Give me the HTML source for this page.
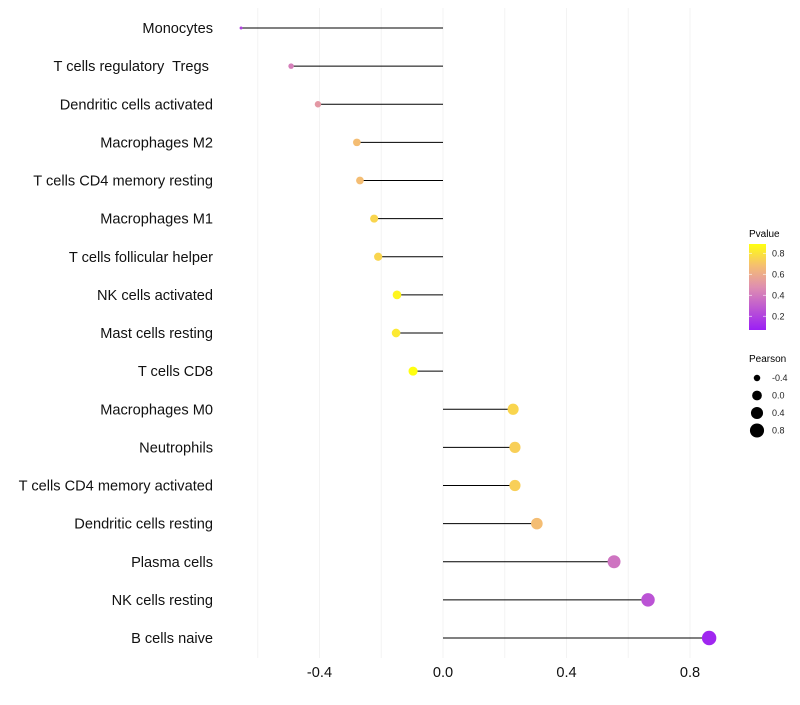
<!DOCTYPE html>
<html><head><meta charset="utf-8"><style>
body{margin:0;background:#fff;font-family:"Liberation Sans",sans-serif}
svg text{font-family:"Liberation Sans",sans-serif;white-space:pre}
</style></head><body>
<svg id="chart" width="800" height="700" xmlns="http://www.w3.org/2000/svg">
<defs><linearGradient id="pg" x1="0" y1="1" x2="0" y2="0">
<stop offset="0" stop-color="#9b1ff5"/><stop offset="0.5" stop-color="#df8fb0"/><stop offset="0.75" stop-color="#f5bf70"/><stop offset="1" stop-color="#ffff10"/>
</linearGradient></defs>
<g id="grid"></g>
<g id="marks"></g>
<g id="labels"></g>
<g id="xticks"></g>
<g>
<text x="749" y="237" font-size="10">Pvalue</text>
<rect x="749" y="244" width="17" height="86" fill="url(#pg)"/>
<g id="cbticks"></g>
</g>
<g id="sizeleg">
<text x="749" y="362" font-size="10">Pearson</text>
</g>
</svg>
<script>
const categories=["Monocytes","T cells regulatory  Tregs ","Dendritic cells activated","Macrophages M2","T cells CD4 memory resting","Macrophages M1","T cells follicular helper","NK cells activated","Mast cells resting","T cells CD8","Macrophages M0","Neutrophils","T cells CD4 memory activated","Dendritic cells resting","Plasma cells","NK cells resting","B cells naive"];
const pearson=[-0.654,-0.492,-0.405,-0.279,-0.269,-0.223,-0.21,-0.149,-0.152,-0.097,0.227,0.233,0.233,0.304,0.554,0.664,0.862];
const pvalues=[0.2,0.42,0.52,0.68,0.68,0.76,0.76,0.86,0.82,0.9,0.76,0.74,0.74,0.68,0.38,0.26,0.1];
const xTicks=[-0.4,0.0,0.4,0.8];
const xGrid=[-0.6,-0.4,-0.2,0,0.2,0.4,0.6,0.8];
const cbTicks=[0.2,0.4,0.6,0.8];
const sizeLeg=[-0.4,0.0,0.4,0.8];
const NS="http://www.w3.org/2000/svg";
const X=v=>443+v*308.75;
const Y=i=>28+i*38.125;
const R=v=>Math.sqrt(Math.max(0.5,2.25+(v+0.654)*32.7));
const CB=p=>330-(p-0.07)*(86/0.82);
function lerp(a,b,t){return a.map((x,i)=>Math.round(x+(b[i]-x)*t));}
function col(p){const s=[[0.07,[155,31,245]],[0.48,[223,143,176]],[0.69,[245,191,112]],[0.89,[255,255,16]]];
 if(p<=s[0][0])return `rgb(${s[0][1]})`;for(let i=1;i<s.length;i++){if(p<=s[i][0]){const t=(p-s[i-1][0])/(s[i][0]-s[i-1][0]);return `rgb(${lerp(s[i-1][1],s[i][1],t)})`;}}return `rgb(${s[3][1]})`;}
function mk(tag,a,p){const e=document.createElementNS(NS,tag);for(const k in a)e.setAttribute(k,a[k]);p.appendChild(e);return e;}
const grid=document.getElementById('grid'),marks=document.getElementById('marks'),labels=document.getElementById('labels'),xt=document.getElementById('xticks');
xGrid.forEach(v=>{const l=mk('line',{x1:X(v),x2:X(v),y1:8,y2:658,stroke:'#f3f3f3','stroke-width':1},grid);

});
categories.forEach((c,i)=>{
 const y=Y(i),v=pearson[i];
 const ln=mk('line',{x1:X(0),x2:X(v),y1:y,y2:y,stroke:'#000','stroke-width':1.1},marks);
 
 
 const d=mk('circle',{cx:X(v),cy:y,r:R(v),fill:col(pvalues[i])},marks);
 
 
 const t=mk('text',{x:213,y:y+5,'text-anchor':'end','font-size':14.6,fill:'#111'},labels);t.textContent=c;
 
 
});
xTicks.forEach(v=>{const t=mk('text',{x:X(v),y:677,'text-anchor':'middle','font-size':14.6,fill:'#111'},xt);t.textContent=v.toFixed(1);
 
 });
const cbt=document.getElementById('cbticks');
cbTicks.forEach(p=>{const y=CB(p);
 mk('line',{x1:749,x2:752,y1:y,y2:y,stroke:'#fff','stroke-opacity':0.6},cbt);
 mk('line',{x1:763,x2:766,y1:y,y2:y,stroke:'#fff','stroke-opacity':0.6},cbt);
 const t=mk('text',{x:772,y:y+3,'font-size':9,fill:'#222'},cbt);t.textContent=p.toFixed(1);
 
 });
const sl=document.getElementById('sizeleg');
sizeLeg.forEach((v,i)=>{const y=378+i*17.5;
 const c=mk('circle',{cx:757,cy:y,r:R(v),fill:'#000'},sl);
 
 
 const t=mk('text',{x:772,y:y+3,'font-size':9,fill:'#222'},sl);t.textContent=v.toFixed(1);
 
 });
</script>
</body></html>
